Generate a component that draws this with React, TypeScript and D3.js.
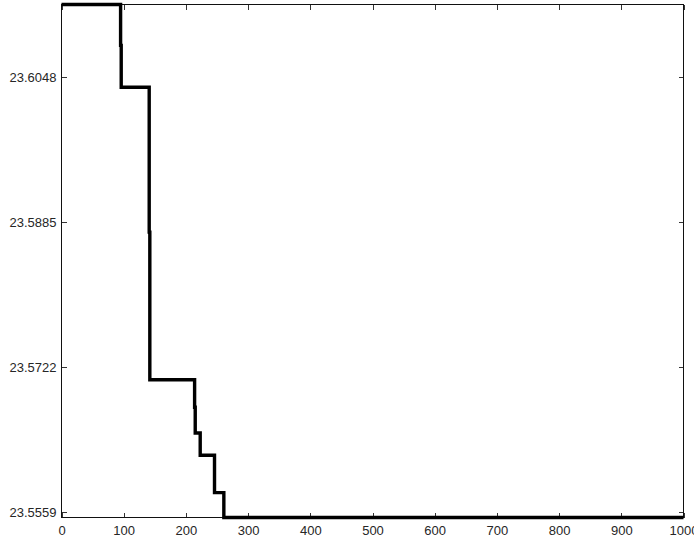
import { useEffect, useRef } from 'react';
import { select, line, curveStepAfter, axisBottom, axisTop, axisLeft, axisRight, scaleLinear } from 'd3';

// iteration where the value changes, and the value from that point on
const iterations = [0, 95, 96, 141, 142, 214, 215, 223, 246, 261, 1000];
const objective = [23.6130, 23.6084, 23.6037, 23.5874, 23.5708, 23.5677, 23.5648, 23.5623, 23.5581, 23.5553, 23.5553];

const xTicks = [0, 100, 200, 300, 400, 500, 600, 700, 800, 900, 1000];
const yTicks = [23.5559, 23.5722, 23.5885, 23.6048];
const yLabels = ['23.5559', '23.5722', '23.5885', '23.6048'];

const W = 694;
const H = 539;
const left = 61.5, right = 683.5, top = 4.5, bottom = 517.5;

const App = () => {
    const svgRef = useRef(null);

    useEffect(() => {
        const svg = select(svgRef.current);
        svg.selectAll('*').remove();

        const xScale = scaleLinear().domain([0, 1000]).range([left, right]);
        const yScale = scaleLinear().domain([23.5553, 23.6130]).range([bottom, top]);

        const font = '"Liberation Sans", Arial, sans-serif';
        const ink = '#262626';

        // mirrored inward ticks like matlab
        const gb = svg.append('g').attr('transform', `translate(0,${bottom})`)
            .call(axisBottom(xScale).tickValues(xTicks).tickSizeInner(-5).tickSizeOuter(0).tickPadding(8.5).tickFormat(d => String(d)));
        const gt = svg.append('g').attr('transform', `translate(0,${top})`)
            .call(axisTop(xScale).tickValues(xTicks).tickSizeInner(-5).tickSizeOuter(0).tickFormat(() => ''));
        const gl = svg.append('g').attr('transform', `translate(${left},0)`)
            .call(axisLeft(yScale).tickValues(yTicks).tickSizeInner(-5).tickSizeOuter(0).tickPadding(5).tickFormat((d, i) => yLabels[i]));
        const gr = svg.append('g').attr('transform', `translate(${right},0)`)
            .call(axisRight(yScale).tickValues(yTicks).tickSizeInner(-5).tickSizeOuter(0).tickFormat(() => ''));

        [gb, gt, gl, gr].forEach(g => {
            g.select('.domain').remove();
            g.selectAll('line').attr('stroke', '#333').attr('shape-rendering', 'crispEdges');
            g.selectAll('text').attr('fill', ink).style('font-family', font).style('font-size', '13px');
        });

        // axes box
        svg.append('rect')
            .attr('x', left).attr('y', top)
            .attr('width', right - left).attr('height', bottom - top)
            .attr('fill', 'none').attr('stroke', '#111')
            .attr('shape-rendering', 'crispEdges');

        const stepLine = line()
            .x((d, i) => xScale(iterations[i]))
            .y(d => yScale(d))
            .curve(curveStepAfter);

        svg.append('path')
            .datum(objective)
            .attr('d', stepLine)
            .attr('fill', 'none')
            .attr('stroke', '#000')
            .attr('stroke-width', 3.4);
    }, []);

    return (
        <svg ref={svgRef} width={W} height={H}
            style={{ position: 'absolute', left: 0, top: 0, background: '#fff' }} />
    );
};

export default App;
